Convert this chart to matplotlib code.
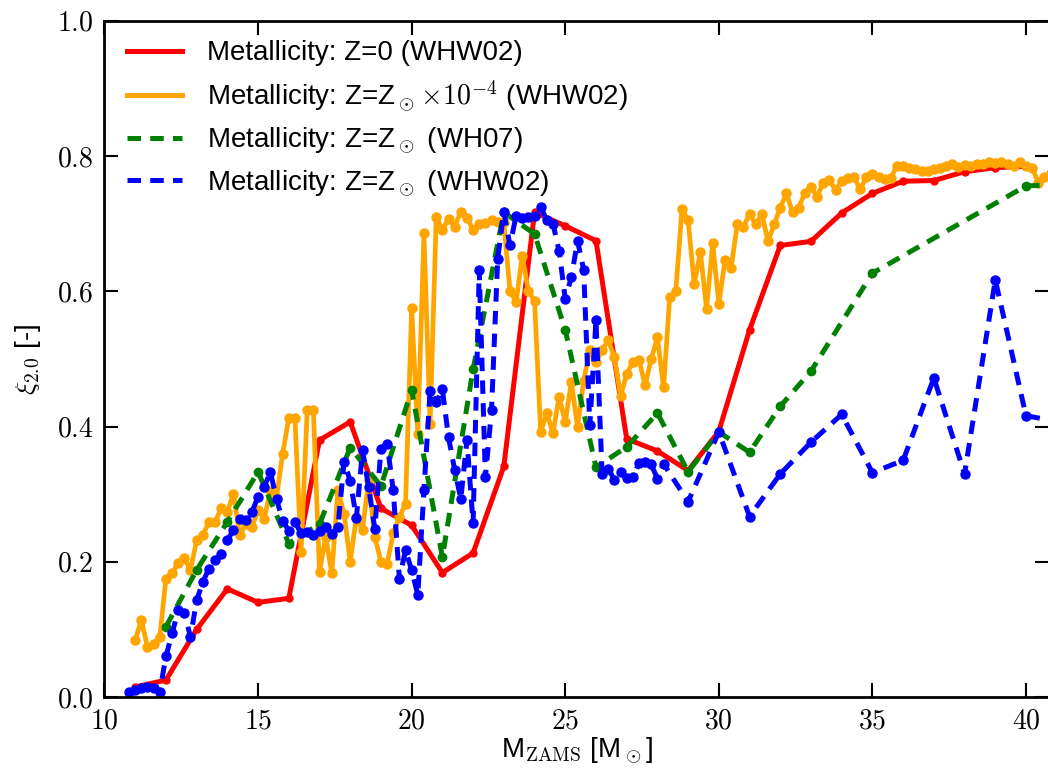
#!/usr/bin/env python3
"""Compactness xi_2.0 vs ZAMS mass for the WHW02 / WH07 progenitor sets."""
import matplotlib
matplotlib.use("Agg")
import matplotlib.pyplot as plt  # noqa: E402
from matplotlib.ticker import FixedLocator, FuncFormatter  # noqa: E402

plt.rcParams["font.family"] = ["Liberation Sans", "DejaVu Sans"]
plt.rcParams["mathtext.fontset"] = "cm"
plt.rcParams["font.size"] = 20

# --- Z = 0 (WHW02) ---
M_Z0 = [11, 12, 13, 14, 15, 16, 17, 18, 19, 20, 21, 22, 23, 24, 25, 26, 27, 28,
        29, 30, 31, 32, 33, 34, 35, 36, 37, 38, 39, 40]
XI_Z0 = [0.015, 0.025, 0.100, 0.160, 0.140, 0.146, 0.380, 0.407, 0.279, 0.254,
         0.184, 0.213, 0.341, 0.717, 0.697, 0.675, 0.382, 0.364, 0.335, 0.393,
         0.543, 0.668, 0.674, 0.716, 0.745, 0.763, 0.764, 0.777, 0.783, 0.785]

# --- Z = Zsun x 1e-4 (WHW02) ---
M_ZLOW = [11.0, 11.2, 11.4, 11.6, 11.8, 12.0, 12.2, 12.4, 12.6, 12.8,
          13.0, 13.2, 13.4, 13.6, 13.8, 14.0, 14.2, 14.4, 14.6, 14.8,
          15.0, 15.2, 15.4, 15.6, 15.8, 16.0, 16.2, 16.4, 16.6, 16.8,
          17.0, 17.2, 17.4, 17.6, 17.8, 18.0, 18.2, 18.4, 18.6, 18.8,
          19.0, 19.2, 19.4, 19.6, 19.8, 20.0, 20.2, 20.4, 20.6, 20.8,
          21.0, 21.2, 21.4, 21.6, 21.8, 22.0, 22.2, 22.4, 22.6, 22.8,
          23.0, 23.2, 23.4, 23.6, 23.8, 24.0, 24.2, 24.4, 24.6, 24.8,
          25.0, 25.2, 25.4, 25.6, 25.8, 26.0, 26.2, 26.4, 26.6, 26.8,
          27.0, 27.2, 27.4, 27.6, 27.8, 28.0, 28.2, 28.4, 28.6, 28.8,
          29.0, 29.2, 29.4, 29.6, 29.8, 30.0, 30.2, 30.4, 30.6, 30.8,
          31.0, 31.2, 31.4, 31.6, 31.8, 32.0, 32.2, 32.4, 32.6, 32.8,
          33.0, 33.2, 33.4, 33.6, 33.8, 34.0, 34.2, 34.4, 34.6, 34.8,
          35.0, 35.2, 35.4, 35.6, 35.8, 36.0, 36.2, 36.4, 36.6, 36.8,
          37.0, 37.2, 37.4, 37.6, 37.8, 38.0, 38.2, 38.4, 38.6, 38.8,
          39.0, 39.2, 39.4, 39.6, 39.8, 40.0, 40.2, 40.4, 40.6, 40.8]
XI_ZLOW = [0.084, 0.114, 0.074, 0.079, 0.089, 0.175, 0.183, 0.198, 0.205, 0.188,
           0.232, 0.239, 0.259, 0.259, 0.279, 0.274, 0.301, 0.239, 0.256, 0.252,
           0.276, 0.264, 0.305, 0.295, 0.360, 0.412, 0.412, 0.215, 0.424, 0.424,
           0.185, 0.237, 0.183, 0.306, 0.271, 0.200, 0.266, 0.247, 0.321, 0.237,
           0.200, 0.197, 0.242, 0.266, 0.286, 0.575, 0.389, 0.686, 0.404, 0.710,
           0.691, 0.707, 0.696, 0.718, 0.709, 0.691, 0.699, 0.701, 0.705, 0.702,
           0.702, 0.601, 0.584, 0.653, 0.601, 0.586, 0.392, 0.420, 0.390, 0.444,
           0.407, 0.466, 0.399, 0.468, 0.514, 0.495, 0.513, 0.528, 0.503, 0.445,
           0.478, 0.495, 0.499, 0.461, 0.500, 0.532, 0.458, 0.591, 0.601, 0.722,
           0.705, 0.611, 0.658, 0.574, 0.671, 0.582, 0.646, 0.635, 0.699, 0.695,
           0.715, 0.699, 0.715, 0.674, 0.699, 0.724, 0.745, 0.717, 0.724, 0.746,
           0.754, 0.740, 0.761, 0.765, 0.750, 0.764, 0.768, 0.769, 0.751, 0.769,
           0.773, 0.769, 0.766, 0.768, 0.786, 0.786, 0.783, 0.781, 0.778, 0.778,
           0.781, 0.783, 0.786, 0.789, 0.784, 0.787, 0.786, 0.788, 0.789, 0.791,
           0.790, 0.791, 0.788, 0.786, 0.791, 0.786, 0.783, 0.761, 0.769, 0.775]

# --- Z = Zsun (WH07) ---
M_WH07 = [12, 13, 14, 15, 16, 17, 18, 19, 20, 21, 22, 23, 24, 25, 26, 27, 28,
          29, 30, 31, 32, 33, 35, 40, 41]
XI_WH07 = [0.104, 0.188, 0.259, 0.333, 0.227, 0.256, 0.369, 0.312, 0.454, 0.207,
           0.485, 0.717, 0.685, 0.543, 0.340, 0.370, 0.420, 0.333, 0.392, 0.362,
           0.430, 0.482, 0.627, 0.756, 0.758]

# --- Z = Zsun (WHW02) ---
M_SUN = [10.8, 11.0, 11.2, 11.4, 11.6, 11.8, 12.0, 12.2, 12.4, 12.6, 12.8,
         13.0, 13.2, 13.4, 13.6, 13.8, 14.0, 14.2, 14.4, 14.6, 14.8,
         15.0, 15.2, 15.4, 15.6, 15.8, 16.0, 16.2, 16.4, 16.6, 16.8,
         17.0, 17.2, 17.4, 17.6, 17.8, 18.0, 18.2, 18.4, 18.6, 18.8,
         19.0, 19.2, 19.4, 19.6, 19.8, 20.0, 20.2, 20.4, 20.6, 20.8,
         21.0, 21.2, 21.4, 21.6, 21.8, 22.0, 22.2, 22.4, 22.6, 22.8,
         23.0, 23.2, 23.4, 23.6, 23.8, 24.0, 24.2, 24.4, 24.6, 24.8,
         25.0, 25.2, 25.4, 25.6, 25.8, 26.0, 26.2, 26.4, 26.6, 26.8,
         27.0, 27.2, 27.4, 27.6, 27.8, 28.0, 28.2,
         29, 30, 31, 32, 33, 34, 35, 36, 37, 38, 39, 40, 41]
XI_SUN = [0.008, 0.010, 0.014, 0.015, 0.013, 0.008, 0.060, 0.094, 0.128, 0.124, 0.089,
          0.143, 0.170, 0.190, 0.202, 0.212, 0.232, 0.247, 0.264, 0.262, 0.274,
          0.296, 0.311, 0.333, 0.293, 0.261, 0.246, 0.259, 0.242, 0.244, 0.240,
          0.245, 0.252, 0.241, 0.252, 0.348, 0.320, 0.265, 0.365, 0.310, 0.249,
          0.367, 0.375, 0.306, 0.175, 0.217, 0.188, 0.151, 0.306, 0.453, 0.436,
          0.455, 0.384, 0.336, 0.293, 0.380, 0.257, 0.631, 0.325, 0.424, 0.648,
          0.718, 0.668, 0.712, 0.709, 0.710, 0.712, 0.725, 0.705, 0.700, 0.660,
          0.589, 0.621, 0.675, 0.632, 0.402, 0.557, 0.330, 0.338, 0.321, 0.333,
          0.324, 0.325, 0.346, 0.348, 0.344, 0.323, 0.345,
          0.289, 0.392, 0.267, 0.330, 0.377, 0.418, 0.332, 0.350, 0.472, 0.330,
          0.617, 0.416, 0.408]

LABELS = ["Metallicity: Z=0 (WHW02)",
          r"Metallicity: Z=Z$_\odot\!\times\!10^{-4}$ (WHW02)",
          r"Metallicity: Z=Z$_\odot$ (WH07)",
          r"Metallicity: Z=Z$_\odot$ (WHW02)"]

DASH = (0, (2.7, 1.85))

fig = plt.figure(figsize=(10.48, 7.69), dpi=100)
ax = fig.add_axes([0.0997, 0.0936, 0.9013, 0.8791])

ax.plot(M_Z0, XI_Z0, "-", color="red", lw=3.6, marker="o", ms=5, mec="red",
        label=LABELS[0])
ax.plot(M_ZLOW, XI_ZLOW, "-", color="orange", lw=3.4, marker="o", ms=6.5,
        mec="orange", label=LABELS[1])
ax.plot(M_WH07, XI_WH07, color="green", ls=DASH, lw=3.6, marker="o", ms=6,
        mec="green", label=LABELS[2])
ax.plot(M_SUN, XI_SUN, color="blue", ls=DASH, lw=3.6, marker="o", ms=6.5,
        mec="blue", label=LABELS[3])

ax.set_xlim(10, 40.75)
ax.set_ylim(0, 1.0)
ax.xaxis.set_major_locator(FixedLocator([10, 15, 20, 25, 30, 35, 40]))
ax.yaxis.set_major_locator(FixedLocator([0.0, 0.2, 0.4, 0.6, 0.8, 1.0]))
ax.xaxis.set_major_formatter(FuncFormatter(lambda v, p: f"${v:.0f}$"))
ax.yaxis.set_major_formatter(FuncFormatter(lambda v, p: f"${v:.1f}$"))
ax.tick_params(which="major", direction="in", length=10, width=1.5,
               top=True, right=True, labelsize=20, pad=8)
for sp in ax.spines.values():
    sp.set_linewidth(2)

ax.set_xlabel(r"M$_{\mathrm{ZAMS}}$ [M$_\odot$]", fontsize=20, labelpad=1)
ax.set_ylabel(r"$\xi_{2.0}$ [-]", fontsize=20, labelpad=10)

handles = [plt.Line2D([0], [0], color="red", lw=3.6),
           plt.Line2D([0], [0], color="orange", lw=3.6),
           plt.Line2D([0], [0], color="green", lw=3.6, ls=DASH),
           plt.Line2D([0], [0], color="blue", lw=3.6, ls=DASH)]
ax.legend(handles, LABELS, loc="upper left", frameon=False, fontsize=20,
          handlelength=2.0, handletextpad=0.9, labelspacing=0.42,
          borderaxespad=0.3, bbox_to_anchor=(0.003, 1.0))

fig.savefig("out.png", dpi=100)
